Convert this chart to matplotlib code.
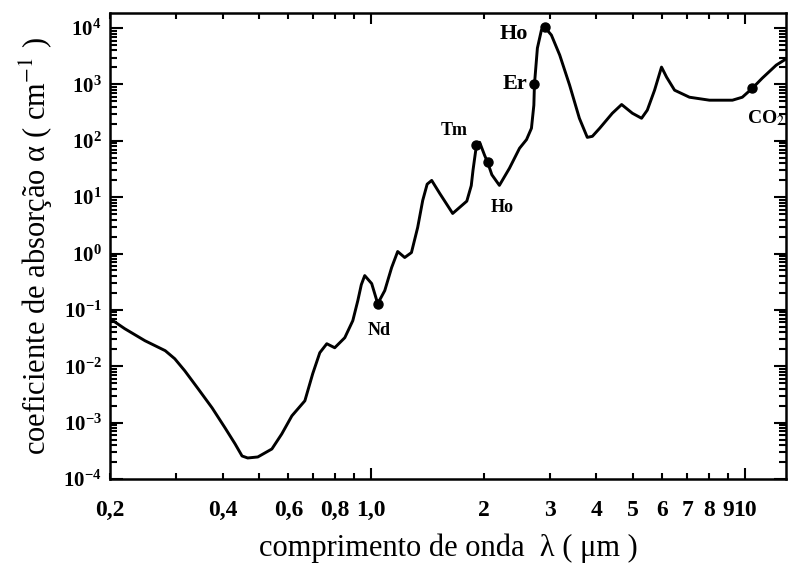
import matplotlib
matplotlib.use("Agg")
import matplotlib.pyplot as plt
from matplotlib.ticker import LogLocator, LogFormatterMathtext, NullFormatter

plt.rcParams['font.family'] = ['Liberation Serif', 'DejaVu Serif']
plt.rcParams['mathtext.fontset'] = 'stix'

# absorption spectrum of water: wavelength (um) and absorption coefficient (1/cm)
wavelength = [0.200, 0.219, 0.248, 0.281, 0.298, 0.317, 0.344, 0.375, 0.406, 0.432,
              0.451, 0.467, 0.497, 0.542, 0.576, 0.613, 0.664, 0.697, 0.728, 0.760,
              0.798, 0.849, 0.892, 0.920, 0.940, 0.960, 1.002, 1.040, 1.086, 1.133,
              1.176, 1.228, 1.280, 1.330, 1.372, 1.410, 1.450, 1.523, 1.650, 1.800,
              1.850, 1.870, 1.889, 1.910, 1.948, 2.009, 2.046, 2.100, 2.200, 2.340,
              2.490, 2.600, 2.680, 2.720, 2.730, 2.780, 2.850, 2.910, 3.030, 3.190,
              3.390, 3.600, 3.780, 3.900, 4.080, 4.410, 4.670, 4.990, 5.280, 5.470,
              5.720, 5.970, 6.160, 6.470, 7.090, 8.020, 9.240, 9.820, 10.45, 11.10,
              12.10, 12.96]
alpha = [0.070, 0.0464, 0.0284, 0.0189, 0.0136, 0.0083, 0.0040, 0.00183, 8.1e-4, 4.2e-4,
         2.56e-4, 2.36e-4, 2.46e-4, 3.41e-4, 6.3e-4, 1.32e-3, 2.44e-3, 7.4e-3, 0.0174, 0.0251,
         0.0213, 0.0321, 0.0644, 0.146, 0.28, 0.406, 0.293, 0.129, 0.22, 0.564,
         1.085, 0.85, 1.04, 2.9, 8.75, 17.0, 19.8, 11.7, 5.14, 8.5,
         16, 30, 49, 83, 94, 55, 41.5, 25, 16.2, 32.5,
         73.6, 105, 167, 428, 1000, 4410, 9210, 10300, 7510, 3310,
         970, 251, 115, 120, 167, 308, 440, 308, 251, 350,
         790, 2030, 1345, 790, 593, 525, 525, 593, 858, 1290,
         2200, 2930]

# laser lines marked on the curve
laser_wl = [1.040, 1.910, 2.046, 2.730, 2.910, 10.45]
laser_alpha = [0.129, 83, 41.5, 1000, 10300, 858]

fig = plt.figure(figsize=(7.88, 5.67), dpi=100)
ax = fig.add_axes([110/788, 88/567, 676/788, 466/567])

ax.plot(wavelength, alpha, color='black', lw=2.1, solid_joinstyle='round')
ax.plot(laser_wl, laser_alpha, 'o', color='black', ms=6.5)

ax.set_xscale('log')
ax.set_yscale('log')
ax.set_xlim(0.2, 12.85)
ax.set_ylim(1e-4, 10**4.267)

# x ticks: decades get long marks, the rest short ones
ax.set_xticks([1.0, 10], ['1,0', '10'])
ax.set_xticks([0.2, 0.3, 0.4, 0.5, 0.6, 0.7, 0.8, 0.9, 2, 3, 4, 5, 6, 7, 8, 9],
              ['0,2', '', '0,4', '', '0,6', '', '0,8', '', '2', '3', '4', '5', '6', '7', '8', '9'],
              minor=True)

ax.yaxis.set_major_locator(LogLocator(base=10, numticks=20))
ax.yaxis.set_minor_locator(LogLocator(base=10, subs=range(2, 10), numticks=20))
ax.yaxis.set_major_formatter(LogFormatterMathtext())
ax.yaxis.set_minor_formatter(NullFormatter())

ax.tick_params(which='both', direction='in', top=True, right=True, width=1.5)
ax.tick_params(axis='x', which='major', length=8, pad=15, labelsize=17)
ax.tick_params(axis='x', which='minor', length=4, pad=15, labelsize=17)
ax.tick_params(axis='y', which='major', length=9, pad=6, labelsize=15)
ax.tick_params(axis='y', which='minor', length=5)
for lab in ax.get_xticklabels(which='both') + ax.get_yticklabels():
    lab.set_fontweight('bold')
for s in ax.spines.values():
    s.set_linewidth(1.8)

ax.set_xlabel('comprimento de onda  λ ( μm )', fontsize=22, labelpad=9)
ax.set_ylabel('coeficiente de absorção α ( cm$^{-1}$ )', fontsize=22, labelpad=6)

# laser labels
ax.text(1.05, 0.043, 'Nd', fontsize=13, fontweight='bold', ha='center', va='center')
ax.text(1.67, 154, 'Tm', fontsize=13, fontweight='bold', ha='center', va='center')
ax.text(2.24, 6.6, 'Ho', fontsize=13, fontweight='bold', ha='center', va='center')
ax.text(2.62, 1000, 'Er', fontsize=16, fontweight='bold', ha='right', va='center')
ax.text(2.62, 7800, 'Ho', fontsize=16, fontweight='bold', ha='right', va='center')
ax.text(10.1, 251, 'CO$_2$', fontsize=14, fontweight='bold', ha='left', va='center',
        clip_on=False)

plt.savefig('out.png', dpi=100)
